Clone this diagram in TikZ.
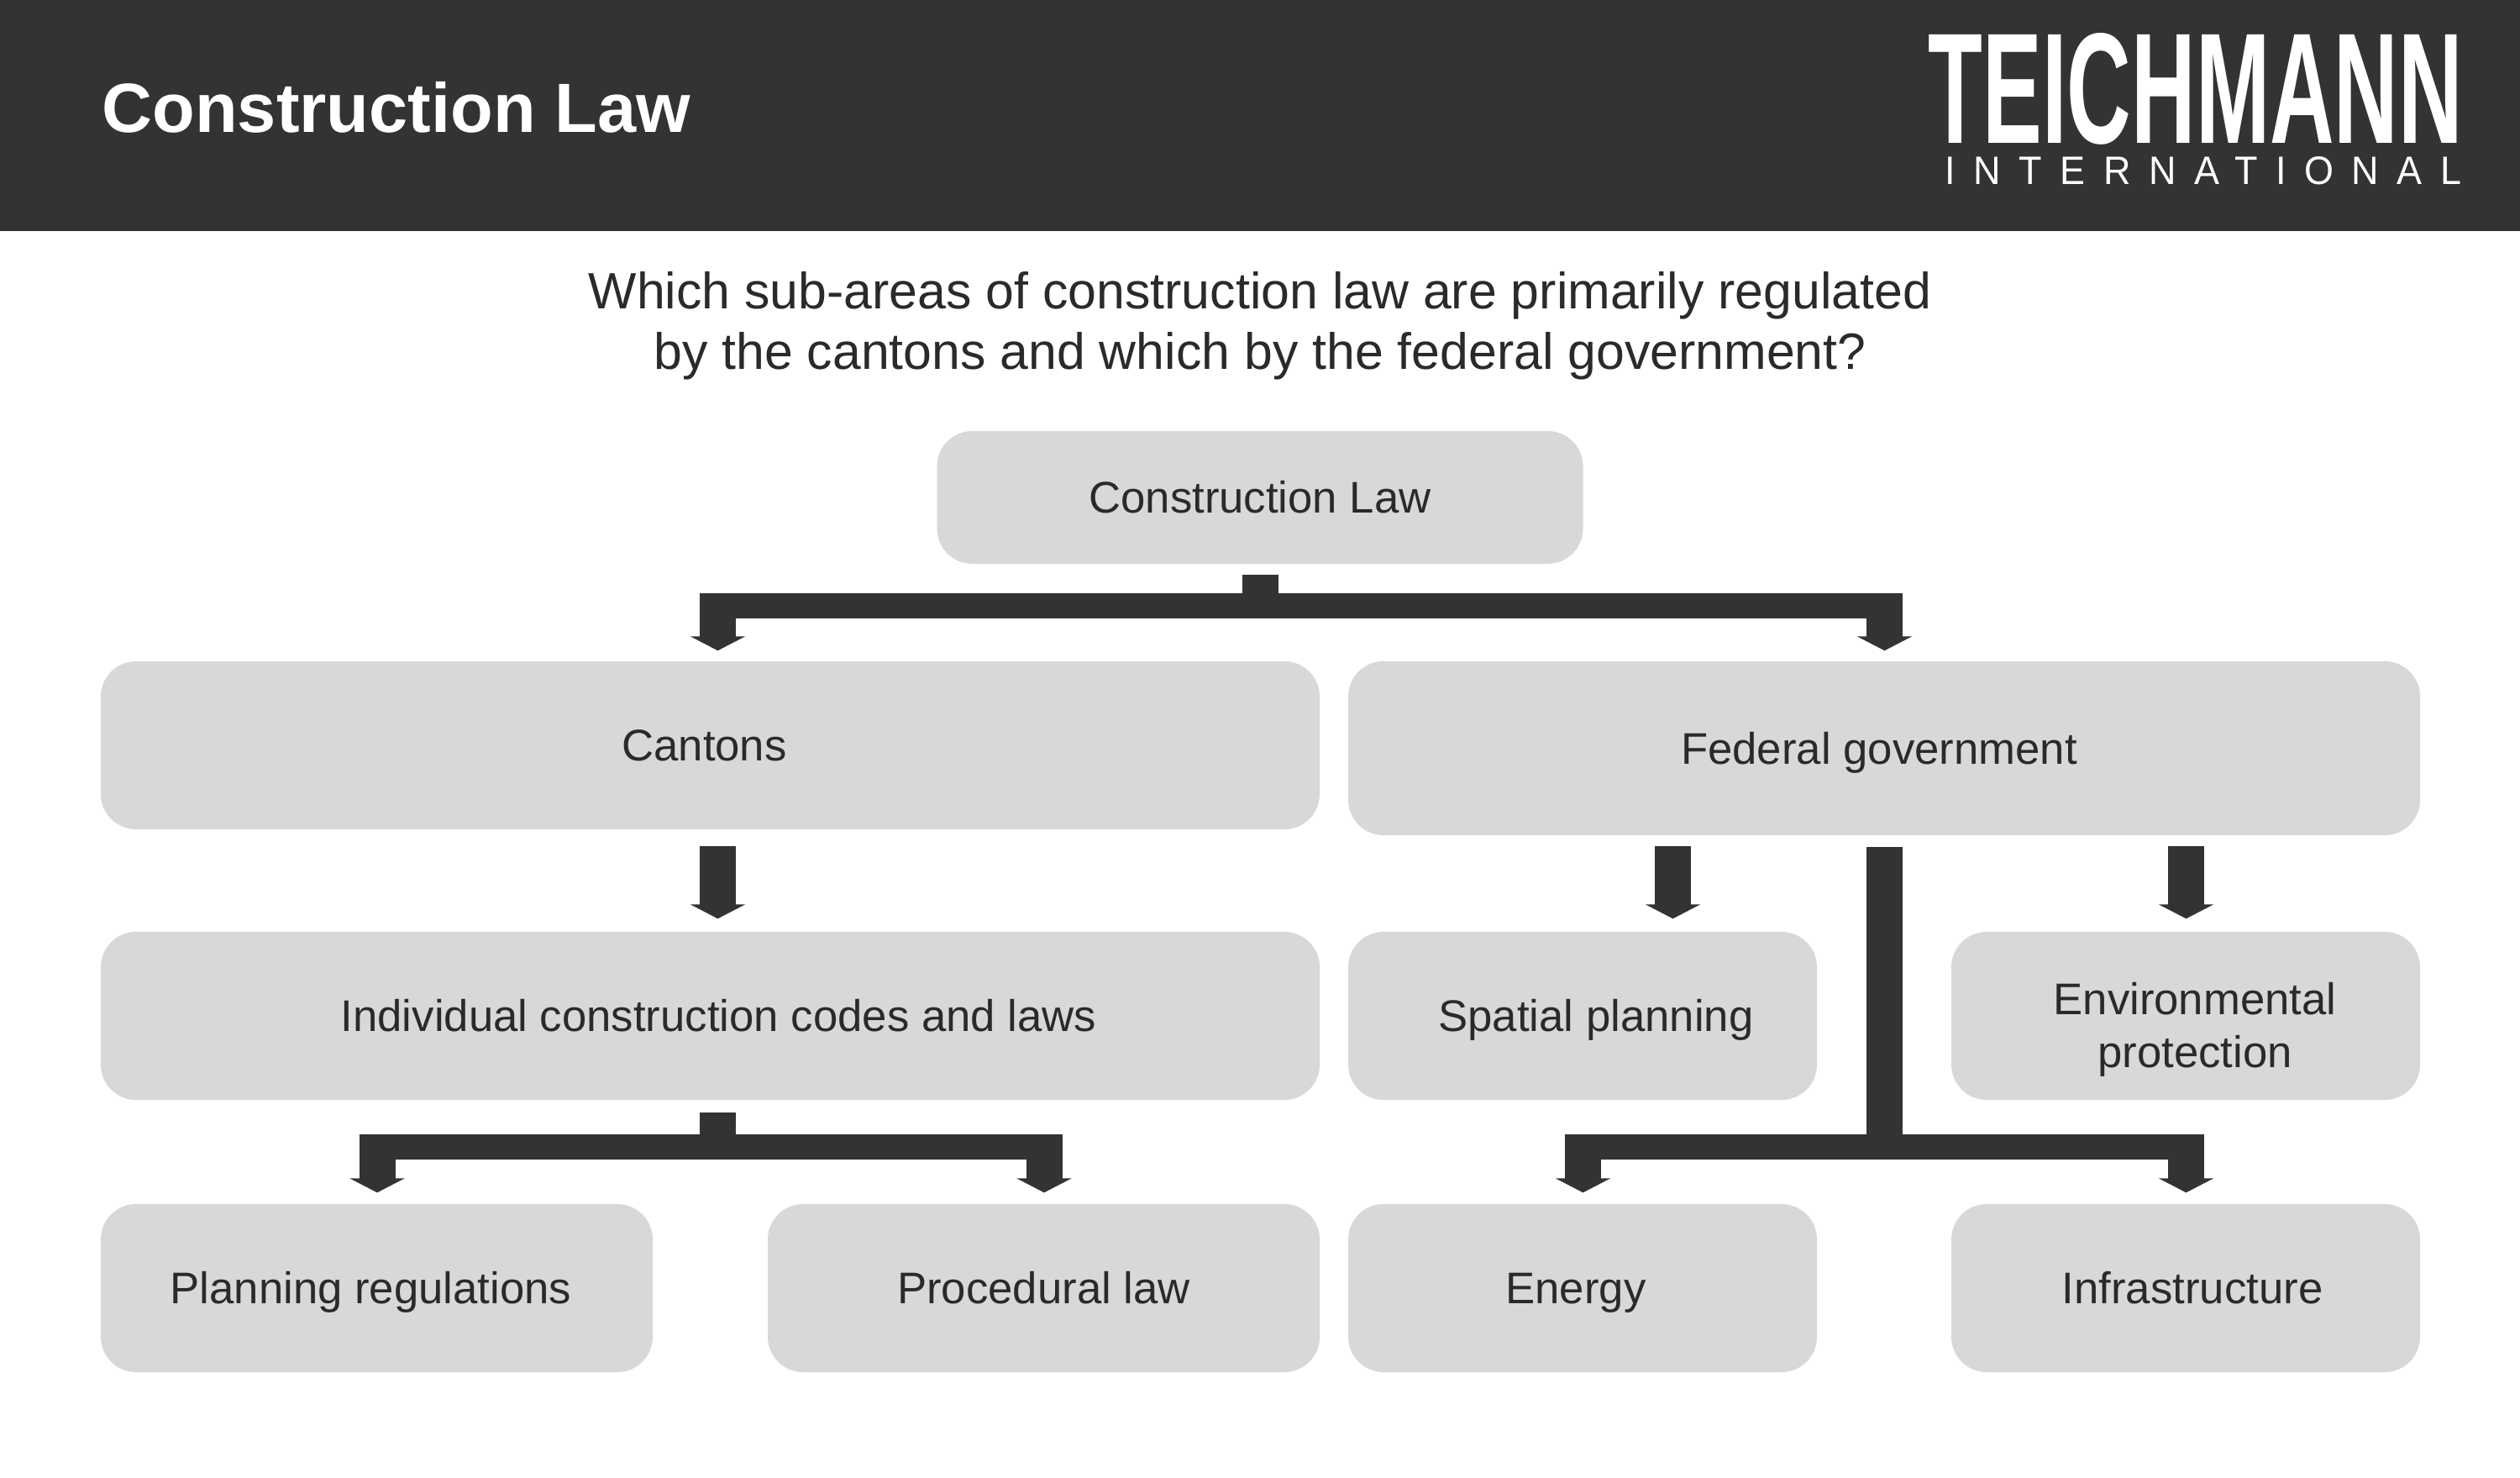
\documentclass[tikz,border=0pt]{standalone}
\usepackage{graphicx}
\usepackage{fontspec}
\setmainfont{Liberation Sans}
\newfontfamily\logospaced[LetterSpace=48]{Liberation Sans}
\usetikzlibrary{positioning, arrows.meta, calc}
\definecolor{barcol}{HTML}{333333}
\definecolor{boxcol}{HTML}{D8D8D8}
\definecolor{txtcol}{HTML}{2A2A2A}

\begin{document}
\begin{tikzpicture}[
  box/.style={fill=boxcol, rectangle, rounded corners=0.42cm, minimum width=5.58cm, minimum height=2cm, align=center, inner sep=0pt, text=txtcol, font=\fontsize{15}{18}\selectfont, execute at begin node=\rule[-0.21em]{0pt}{1.14em}},
  wide/.style={box, minimum width=14.51cm},
  half/.style={box, minimum width=6.57cm},
  stem/.style={barcol, line width=0.43cm},
  rail/.style={barcol, line width=0.30cm},
  arrow/.style={stem, -{Triangle[width=0.65cm, length=0.17cm]}, shorten >=0.15cm}
]
  \useasboundingbox (0,0) rectangle (30,-17.58);
  \fill[barcol] (0,0) rectangle (30,-2.75);

  \node[anchor=west, inner sep=0pt, text=white, font=\fontsize{23.6}{28}\selectfont\bfseries] (title) at (1.21,-1.28) {Construction Law};
  \node[inner sep=0pt, text=white] (logo) at (26.14,-1.055) {\resizebox{6.36cm}{1.31cm}{\bfseries TEICHMANN}};
  \node[inner sep=0pt, text=white] (logosub) at (26.23,-2.035) {\resizebox{6.15cm}{0.33cm}{\logospaced INTERNATIONAL}};
  \node[align=center, inner sep=0pt, text=txtcol, font=\fontsize{17.3}{20.5}\selectfont] (question) at (15,-3.88) {Which sub-areas of construction law are primarily regulated\\by the cantons and which by the federal government?};

  \node[box, minimum width=7.69cm, minimum height=1.58cm] (root) at (15,-5.92) {Construction Law};
  \node[wide]                        (cantons) at (8.455,-8.87)  {\hspace*{-0.14cm}Cantons};
  \node[box, minimum width=12.76cm, minimum height=2.07cm] (federal) at (22.43,-8.905) {\hspace*{-0.12cm}Federal government};
  \node[wide]                        (codes)   at (8.455,-12.09) {\hspace*{0.2cm}Individual construction codes and laws};
  \node[box]                         (spatial) at (18.84,-12.09) {\hspace*{0.32cm}Spatial planning};
  \node[box]                         (environ) at (26.02,-12.09) {\rule{0pt}{1.35em}\hspace*{0.22cm}Environmental\\\hspace*{0.22cm}protection};
  \node[half]                        (planning) at (4.485,-15.33) {\hspace*{-0.14cm}Planning regulations};
  \node[half]                        (procedural) at (12.425,-15.33) {Procedural law};
  \node[box]                         (energy)  at (18.84,-15.33) {\hspace*{-0.16cm}Energy};
  \node[box]                         (infra)   at (26.02,-15.33) {\hspace*{0.16cm}Infrastructure};

  \coordinate (railtop)  at (15,-7.21);
  \coordinate (cantonsin) at (8.545,-7.06);
  \coordinate (federalin) at (22.435,-7.06);
  \coordinate (codesout) at (8.545,-10.07);
  \coordinate (codesin)  at (8.545,-13.24);
  \coordinate (railcodes) at (8.545,-13.65);
  \coordinate (planningin) at (4.49,-13.50);
  \coordinate (proceduralin) at (12.43,-13.50);
  \coordinate (spatialin) at (19.915,-10.07);
  \coordinate (environin) at (26.025,-10.07);
  \coordinate (railfed)  at (22.435,-13.65);
  \coordinate (energyin) at (18.845,-13.50);
  \coordinate (infrain)  at (26.025,-13.50);

  \draw[stem, shorten <=0.12cm] (root.south) -- (railtop);
  \draw[rail] ($(cantonsin |- railtop)+(-0.215,0)$) -- ($(federalin |- railtop)+(0.215,0)$);
  \draw[arrow, shorten >=0.12cm] (cantonsin) -- (cantonsin |- cantons.north);
  \draw[arrow, shorten >=0.12cm] (federalin) -- (federalin |- federal.north);

  \draw[arrow] (codesout) -- (codesout |- codes.north);
  \draw[stem] (codesin) -- (railcodes);
  \draw[rail] ($(planningin |- railcodes)+(-0.215,0)$) -- ($(proceduralin |- railcodes)+(0.215,0)$);
  \draw[arrow, shorten >=0.13cm] (planningin) -- (planningin |- planning.north);
  \draw[arrow, shorten >=0.13cm] (proceduralin) -- (proceduralin |- procedural.north);

  \draw[arrow] (spatialin) -- (spatialin |- spatial.north);
  \draw[arrow] (environin) -- (environin |- environ.north);
  \draw[stem, shorten <=0.13cm] (federal.south -| railfed) -- (railfed);
  \draw[rail] ($(energyin |- railfed)+(-0.215,0)$) -- ($(infrain |- railfed)+(0.215,0)$);
  \draw[arrow, shorten >=0.13cm] (energyin) -- (energyin |- energy.north);
  \draw[arrow, shorten >=0.13cm] (infrain) -- (infrain |- infra.north);
\end{tikzpicture}
\end{document}
